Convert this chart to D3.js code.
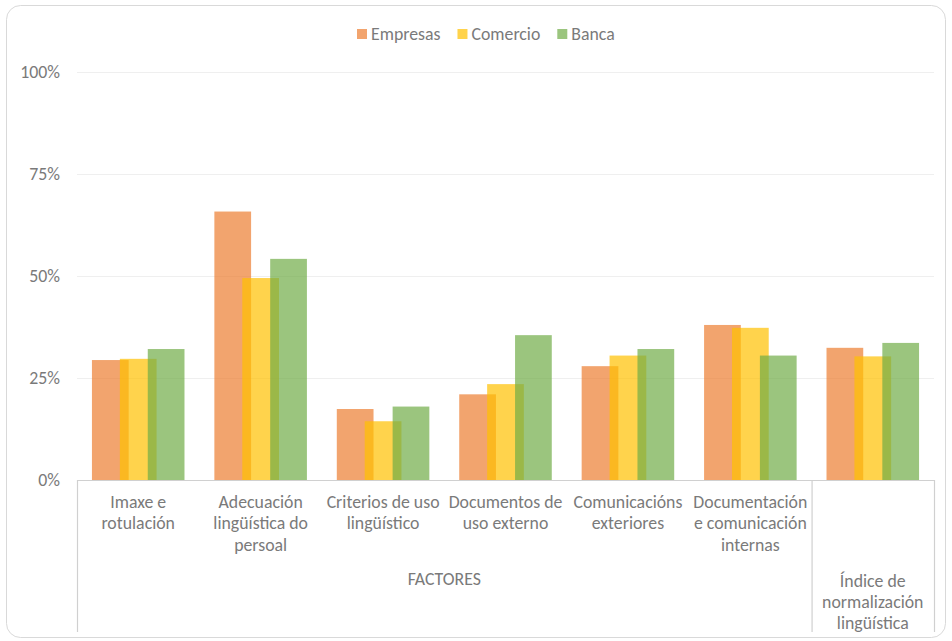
<!DOCTYPE html>
<html>
<head>
<meta charset="utf-8">
<script src="https://cdn.jsdelivr.net/npm/d3@7"></script>
<style>
  html, body { margin: 0; padding: 0; background: #fff; }
  svg { display: block; }
  text { font-family: Carlito, Calibri, Lato, sans-serif; fill: #7a7a7a; }
</style>
</head>
<body>
<svg id="chart" width="952" height="641"></svg>
<script>
const subLabels = ["Imaxe e\nrotulación", "Adecuación\nlingüística do\npersoal", "Criterios de uso\nlingüístico", "Documentos de\nuso externo", "Comunicacións\nexteriores", "Documentación\ne comunicación\ninternas", ""];
const groupLabels = ["FACTORES", "Índice de\nnormalización\nlingüística"];
const groupSizes = [6, 1];
const seriesNames = ["Empresas", "Comercio", "Banca"];
const empresas = [29.4, 65.8, 17.4, 21.0, 27.9, 38.0, 32.4];
const comercio = [29.7, 49.5, 14.4, 23.5, 30.5, 37.3, 30.3];
const banca    = [32.1, 54.2, 18.0, 35.5, 32.1, 30.5, 33.6];
const yTicks = [0, 25, 50, 75, 100];
const colors = ["#ED7D31", "#FFC000", "#70AD47"];

(function () {
const svg = d3.select("#chart");
const pl = 77, pr = 934, pt = 72, pb = 480;
const FS = 17.8;

// card
svg.append("rect").attr("x", 6.5).attr("y", 5.5).attr("width", 939).attr("height", 632)
  .attr("rx", 14).attr("fill", "#fff").attr("stroke", "#d9d9d9").attr("stroke-width", 1);

const idx = d3.range(subLabels.length);
const x = d3.scaleBand().domain(idx).range([pl, pr]).paddingInner(0).paddingOuter(0);
const y = d3.scaleLinear().domain([0, 100]).range([pb, pt]);

const bw = x.bandwidth();
const barW = bw * 0.3;
const step = barW * 0.76;
const groupW = barW + 2 * step;
const xs = d3.scalePoint().domain(seriesNames).range([0, 2 * step]);

// gridlines
svg.append("g").selectAll("line").data(yTicks.filter(d => d > 0)).join("line")
  .attr("x1", pl).attr("x2", pr)
  .attr("y1", d => y(d) + 0.5).attr("y2", d => y(d) + 0.5)
  .attr("stroke", "#efefef").attr("stroke-width", 1);

// y labels
svg.append("g").selectAll("text").data(yTicks).join("text")
  .attr("x", 60).attr("y", d => y(d)).attr("dy", "0.35em")
  .attr("text-anchor", "end").attr("font-size", FS)
  .text(d => d + "%");

// bars
const series = [empresas, comercio, banca];
series.forEach((vals, si) => {
  svg.append("g").selectAll("rect").data(vals).join("rect")
    .attr("x", (d, i) => x(i) + (bw - groupW) / 2 + xs(seriesNames[si]))
    .attr("width", barW)
    .attr("y", d => y(d))
    .attr("height", d => y(0) - y(d))
    .attr("fill", colors[si]).attr("fill-opacity", 0.7);
});

// axis line
svg.append("line").attr("x1", pl).attr("x2", pr).attr("y1", pb + 0.5).attr("y2", pb + 0.5)
  .attr("stroke", "#d0d0d0").attr("stroke-width", 1.2);

// separators
const sepIdx = [0];
let acc = 0;
groupSizes.forEach(s => { acc += s; sepIdx.push(acc); });
svg.append("g").selectAll("line").data(sepIdx).join("line")
  .attr("x1", d => (d < subLabels.length ? x(d) : pr) + 0.5)
  .attr("x2", d => (d < subLabels.length ? x(d) : pr) + 0.5)
  .attr("y1", pb).attr("y2", 632)
  .attr("stroke", "#d0d0d0").attr("stroke-width", 1.2);

// sub labels
const lh = 21.5;
svg.append("g").selectAll("text").data(subLabels).join("text")
  .attr("text-anchor", "middle").attr("font-size", FS)
  .each(function(d, i) {
    const t = d3.select(this);
    d.split("\n").forEach((line, li) => {
      t.append("tspan").attr("x", x(i) + bw / 2).attr("y", 507.5 + li * lh).text(line);
    });
  });

// group labels
let start = 0;
groupLabels.forEach((g, gi) => {
  const end = start + groupSizes[gi];
  const cx = (x(start) + (end < subLabels.length ? x(end) : pr)) / 2;
  const t = svg.append("text").attr("text-anchor", "middle").attr("font-size", FS);
  g.split("\n").forEach((line, li) => {
    t.append("tspan").attr("x", cx).attr("y", (gi === 0 ? 585 : 587) + li * 21).text(line);
  });
  start = end;
});

// legend
const legend = svg.append("g");
let lx = 357;
seriesNames.forEach((n, i) => {
  legend.append("rect").attr("x", lx).attr("y", 29).attr("width", 10).attr("height", 10)
    .attr("fill", colors[i]).attr("fill-opacity", 0.7);
  const tx = legend.append("text").attr("x", lx + 14).attr("y", 39.5).attr("font-size", FS).text(n);
  const w = tx.node().getComputedTextLength();
  lx += 14 + w + 17;
});
})();
</script>
</body>
</html>
